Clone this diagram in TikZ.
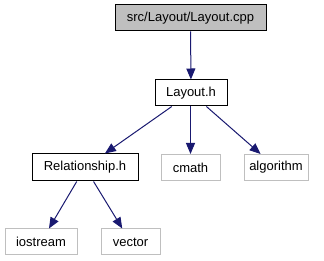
\documentclass[tikz,border=0pt]{standalone}
\usepackage{fontspec}
\setmainfont{Liberation Sans}
\usetikzlibrary{arrows.meta}

\definecolor{edgeblue}{HTML}{191970}
\definecolor{sysgrey}{HTML}{BFBFBF}

\tikzset{
  file/.style={draw=black, rectangle, minimum height=26pt, inner sep=0pt,
               line width=1pt, font=\fontsize{13}{15}\selectfont},
  sysfile/.style={file, draw=sysgrey},
  inc/.style={draw=edgeblue, line width=1pt,
              -{Triangle[length=11pt,width=9pt]}}
}

\begin{document}
\begin{tikzpicture}[x=1pt, y=-1pt]
                    \useasboundingbox (0,0) rectangle (324,261);
                    \node[file, fill=sysgrey, minimum width=151pt] (1) at (190.5,18) {src/Layout/Layout.cpp};
                    \node[file, minimum width=72pt] (2) at (191,93) {Layout.h};
                    \node[file, minimum width=106pt, minimum height=27pt] (3) at (85,167.5) {Relationship.h};
                    \node[sysfile, minimum width=59pt] (4) at (190.5,167.5) {cmath};
                    \node[sysfile, minimum width=64pt] (5) at (276,167.5) {algorithm};
                    \node[sysfile, minimum width=72pt] (6) at (41,242) {iostream};
                    \node[sysfile, minimum width=59pt] (7) at (130.5,242) {vector};

                    \draw[inc] (1) -- (2);
                    \draw[inc] (2) -- (3);
                    \draw[inc] (2.south -| 4) -- (4);
                    \draw[inc] (2) -- (5);
                    \draw[inc] (3) -- (6);
                    \draw[inc] (3) -- (7);
                \end{tikzpicture}
\end{document}
